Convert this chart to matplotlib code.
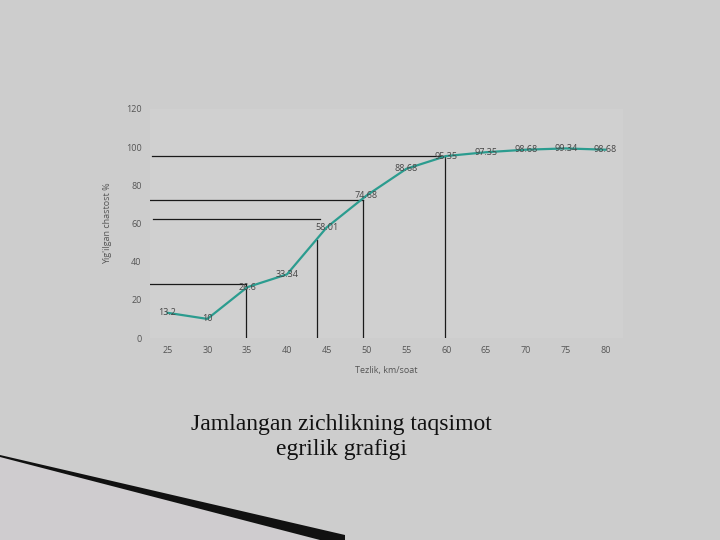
import numpy as np
import matplotlib.pyplot as plt
from matplotlib.patches import Polygon

# Data
speed = [25, 30, 35, 40, 45, 50, 55, 60, 65, 70, 75, 80]
cum_freq = [13.2, 10, 26.6, 33.34, 58.01, 74.68, 88.68, 95.35, 97.35, 98.68, 99.34, 98.68]
labels = ["13.2", "10", "26.6", "33.34", "58.01", "74.68", "88.68", "95.35",
          "97.35", "98.68", "99.34", "98.68"]

# Guide lines drawn over the chart
h_levels = [95.35, 72.3, 62.2, 28.1]
h_start = [23.1, 22.7, 23.2, 22.7]
h_end = [59.8, 49.6, 44.2, 34.8]
v_pos = [59.8, 49.6, 43.8, 34.8]
v_top = [95.35, 72.3, 51.4, 28.1]

bg = '#cdcdcd'
fig = plt.figure(figsize=(7.2, 5.4), dpi=100, facecolor=bg)

# decorative black wedge in the bottom-left corner (pixel coords -> fig fraction)
wedge = [(0, 455), (345, 535), (345, 540), (320, 540), (0, 457)]
fig.add_artist(Polygon([(x / 720, 1 - y / 540) for x, y in wedge],
                       closed=True, transform=fig.transFigure,
                       facecolor='#111111', edgecolor='none'))
under = [(0, 457), (320, 540), (0, 540)]
fig.add_artist(Polygon([(x / 720, 1 - y / 540) for x, y in under],
                       closed=True, transform=fig.transFigure,
                       facecolor='#cfcccf', edgecolor='none', zorder=0))

ax = fig.add_axes([150 / 720, 1 - 338 / 540, 473 / 720, 229 / 540])
ax.set_facecolor('#d0d0d0')
for s in ax.spines.values():
    s.set_visible(False)

ax.plot(speed, cum_freq, color='#2b9c8f', lw=1.6, zorder=3)
for x, y, t in zip(speed, cum_freq, labels):
    ax.text(x, y, t, ha='center', va='center', fontsize=6.5,
            color='#444444', family='Open Sans', zorder=4)

for lvl, a, b in zip(h_levels, h_start, h_end):
    ax.plot([a, b], [lvl, lvl], color='#1a1a1a', lw=0.9, zorder=2)
for xv, top in zip(v_pos, v_top):
    ax.plot([xv, xv], [0, top], color='#1a1a1a', lw=0.9, zorder=2)

ax.set_xlim(22.8, 82.2)
ax.set_ylim(0, 120)
ax.set_xticks(speed)
ax.set_yticks(np.arange(0, 121, 20))
ax.tick_params(length=0, labelsize=6.5, labelcolor='#555555', pad=6)
for lab in ax.get_xticklabels() + ax.get_yticklabels():
    lab.set_family('Open Sans')

ax.set_xlabel('Tezlik, km/soat', fontsize=6.5, color='#555555',
              family='Open Sans', labelpad=8)
ax.set_ylabel("Yig'ilgan chastost %", fontsize=6.5, color='#555555',
              family='Open Sans', labelpad=10)

fig.text(0.474, 1 - 437 / 540, 'Jamlangan zichlikning taqsimot\negrilik grafigi',
         ha='center', va='center', fontsize=17, family='Liberation Serif',
         color='#111111', linespacing=1.3)

fig.savefig('out.png', dpi=100, facecolor=bg)
